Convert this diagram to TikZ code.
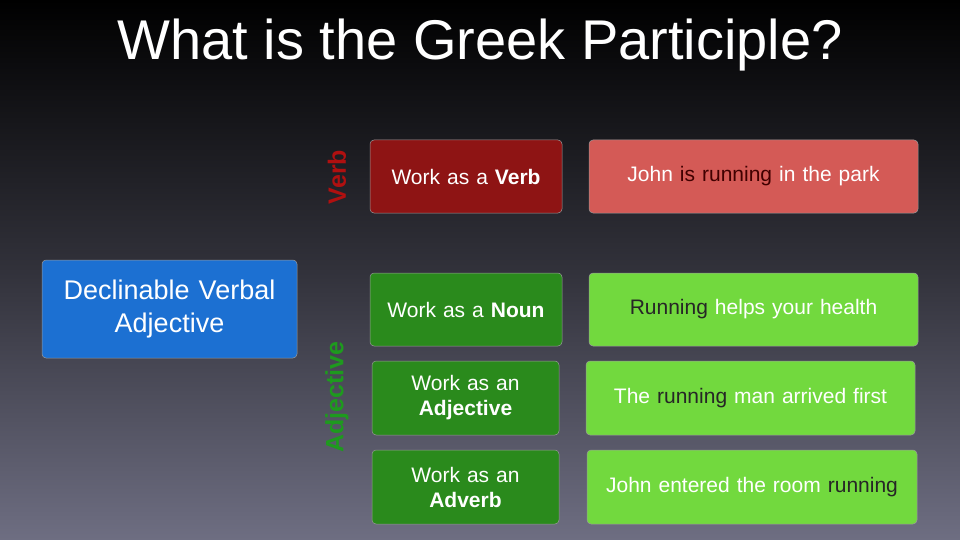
\documentclass[tikz,border=0pt]{standalone}
\usepackage{fontspec}
\setmainfont{Liberation Sans}
\begin{document}
\begin{tikzpicture}[x=1pt,y=-1pt,
  box/.style={rounded corners=4pt,draw=black!40,line width=0.5pt,text width=#1,align=center,inner sep=0pt},
  ex/.style={font=\fontsize{21}{24}\selectfont,text=white},
  lab/.style={font=\fontsize{21}{25}\selectfont,text=white}]
\definecolor{bgtop}{HTML}{000000}
\definecolor{bgbot}{HTML}{6E6E82}
\definecolor{dred}{HTML}{8E1414}
\definecolor{lred}{HTML}{D45A56}
\definecolor{dgreen}{HTML}{2A8A1C}
\definecolor{lgreen}{HTML}{72D93E}
\definecolor{blu}{HTML}{1C70D2}
\definecolor{vred}{HTML}{B01010}
\definecolor{agreen}{HTML}{1E9A1E}
\shade[top color=bgtop,bottom color=bgbot,middle color=bgtop!55!bgbot] (0,0) rectangle (960,540);
\useasboundingbox (0,0) rectangle (960,540);
\node[text=white,font=\fontsize{56}{62}\selectfont] (title) at (480,45) {What is the Greek Participle?};
\node[box=255pt,minimum height=98pt,fill=blu,font=\fontsize{27}{33}\selectfont,text=white,minimum width=255pt] (dva) at (169.5,309) {Declinable Verbal\\Adjective};
\node[rotate=90,text=vred,font=\bfseries\fontsize{25}{28}\selectfont] (verb) at (337,177) {Verb};
\node[rotate=90,text=agreen,font=\bfseries\fontsize{25}{28}\selectfont] (adj) at (337,397) {Adjective};
\node[box=192pt,minimum height=73pt,fill=dred,lab] (wv) at (466,176.5) {Work as a \textbf{Verb}};
\node[box=329pt,minimum height=73pt,fill=lred,ex] (e1) at (753.5,176.5) {John \textcolor{black!75!red}{is running} in the park};
\node[box=192pt,minimum height=73pt,fill=dgreen,lab] (wn) at (466,309.5) {Work as a \textbf{Noun}};
\node[box=329pt,minimum height=73pt,fill=lgreen,ex] (e2) at (753.5,309.5) {\textcolor{black!85}{Running} helps your health};
\node[box=187pt,minimum height=74pt,fill=dgreen,lab] (wa) at (465.5,398) {Work as an\\\textbf{Adjective}};
\node[box=329pt,minimum height=74pt,fill=lgreen,ex] (e3) at (750.5,398) {The \textcolor{black!85}{running} man arrived first};
\node[box=187pt,minimum height=74pt,fill=dgreen,lab] (wd) at (465.5,487) {Work as an\\\textbf{Adverb}};
\node[box=330pt,minimum height=74pt,fill=lgreen,ex] (e4) at (752,487) {John entered the room \textcolor{black!85}{running}};
\end{tikzpicture}
\end{document}
